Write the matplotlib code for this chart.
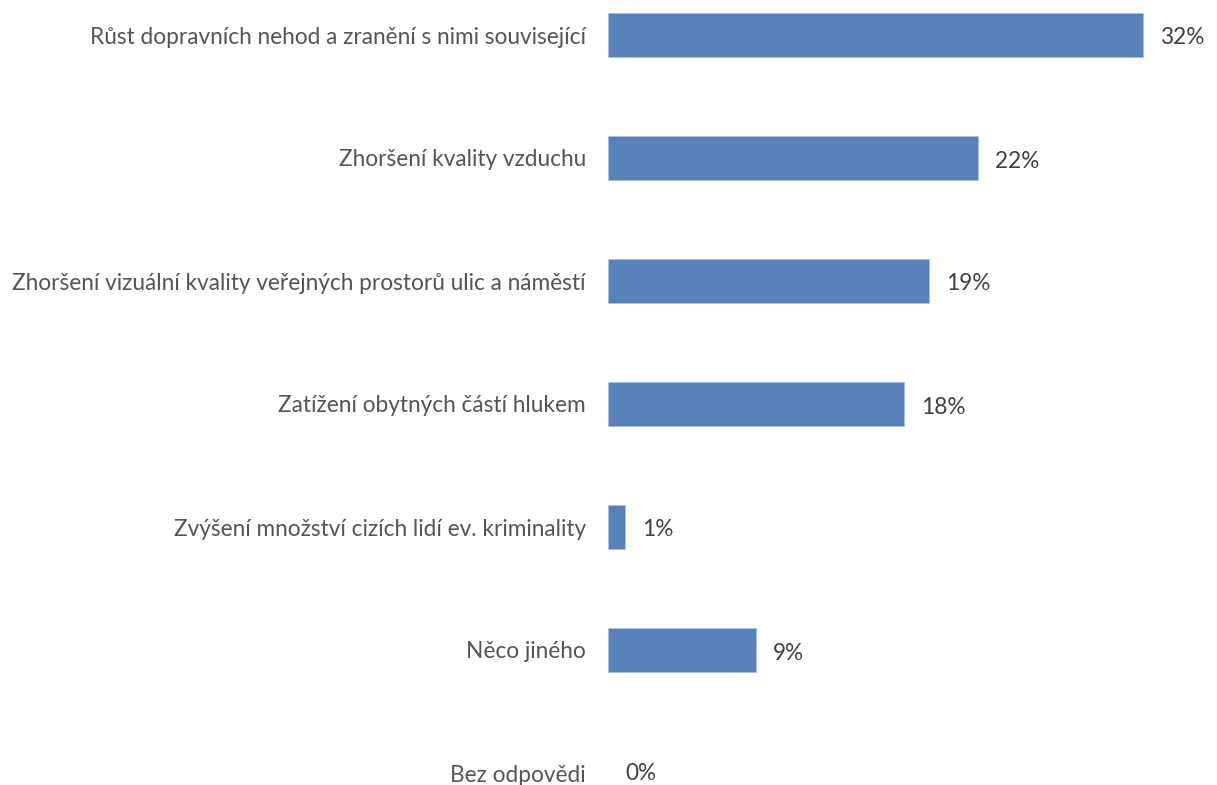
import matplotlib
matplotlib.use("Agg")
import matplotlib.pyplot as plt
from matplotlib.transforms import offset_copy

categories = [
    "Růst dopravních nehod a zranění s nimi související",
    "Zhoršení kvality vzduchu",
    "Zhoršení vizuální kvality veřejných prostorů ulic a náměstí",
    "Zatížení obytných částí hlukem",
    "Zvýšení množství cizích lidí ev. kriminality",
    "Něco jiného",
    "Bez odpovědi",
]
values = [32.0, 22.1, 19.2, 17.7, 1.0, 8.85, 0.0]
value_labels = ["32%", "22%", "19%", "18%", "1%", "9%", "0%"]

plt.rcParams['font.family'] = ['Lato', 'DejaVu Sans']

W, H = 1217, 785
fig = plt.figure(figsize=(W / 100, H / 100), dpi=100)
ax = fig.add_axes([608 / W, 0, 602 / W, 1])
ypos = list(range(len(categories)))
for y, v in zip(ypos, values):
    if v > 0:
        ax.barh(y, v, height=0.36, color="#5880b9", edgecolor="#a9c1e2", linewidth=0.6)
ax.set_xlim(0, 36)
ax.set_ylim(6 + 12 / 123, -35 / 123)
ax.axis("off")

lab_tr = offset_copy(ax.transData, fig=fig, x=-22, y=-2, units="dots")
for y, c in zip(ypos, categories):
    ax.text(0, y, c, transform=lab_tr, ha="right", va="center",
            fontsize=16.3, color="#555555")

val_tr = offset_copy(ax.transData, fig=fig, x=17, y=-3, units="dots")
val_tr_last = offset_copy(ax.transData, fig=fig, x=17, y=-1, units="dots")
for i, (y, v, t) in enumerate(zip(ypos, values, value_labels)):
    tr = val_tr_last if i == len(values) - 1 else val_tr
    ax.text(v, y, t, transform=tr, ha="left", va="center",
            fontsize=16.3, color="#404040")

fig.savefig("out.png", dpi=100)
